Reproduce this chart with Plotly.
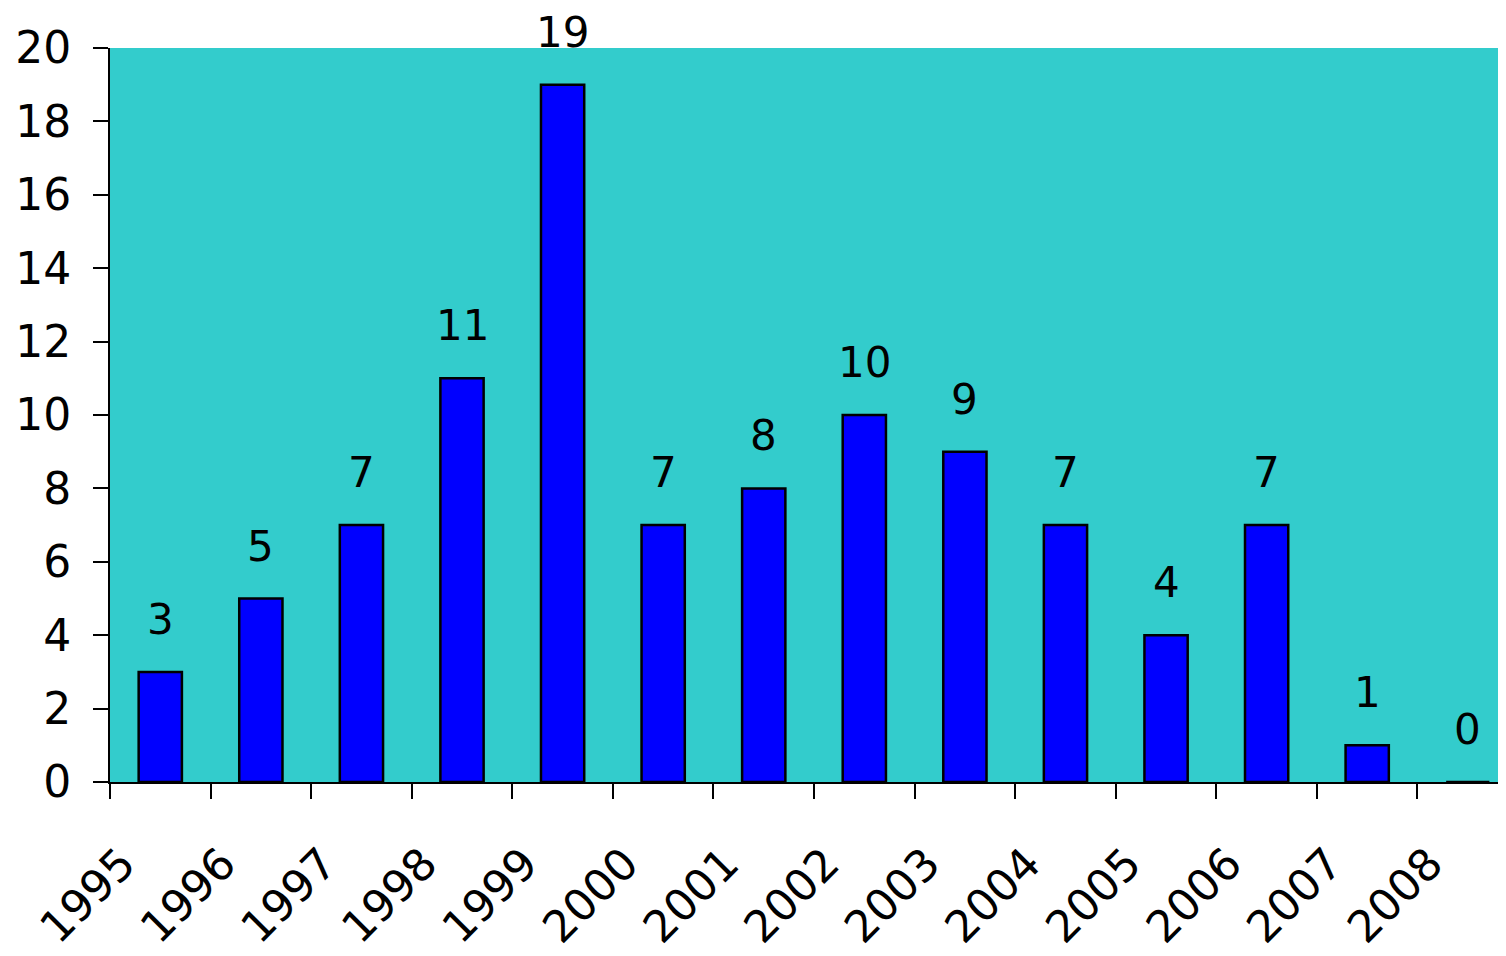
import plotly.graph_objects as go

years = ["1995", "1996", "1997", "1998", "1999", "2000", "2001",
         "2002", "2003", "2004", "2005", "2006", "2007", "2008"]
counts = [3, 5, 7, 11, 19, 7, 8, 10, 9, 7, 4, 7, 1, 0]

FONT = "DejaVu Sans"

fig = go.Figure(go.Bar(
    x=years, y=counts,
    width=0.43,
    marker=dict(color="#0000FF", line=dict(color="black", width=2.5)),
    cliponaxis=False,
))

for i, c in enumerate(counts):
    fig.add_annotation(
        x=i, y=c, xref="x", yref="y", text=str(c), showarrow=False,
        xanchor="center", yanchor="bottom", yshift=27, borderpad=0,
        font=dict(family=FONT, size=42, color="black"),
    )

fig.update_layout(
    width=1498, height=948,
    margin=dict(l=102, r=0, t=40, b=174, autoexpand=False),
    paper_bgcolor="white",
    plot_bgcolor="#33CCCC",
    showlegend=False,
    font=dict(family=FONT, size=42, color="black"),
)
fig.update_xaxes(
    type="category",
    range=[-0.5, 13.38],
    tickson="boundaries",
    ticks="outside", ticklen=15, tickwidth=2, tickcolor="black",
    showline=True, linecolor="black", linewidth=2,
    tickangle=-45,
    tickfont=dict(family=FONT, size=44, color="black"),
    ticklabelshift=-38,
    ticklabelstandoff=36,
    showgrid=False, automargin=False,
)
fig.update_yaxes(
    range=[0, 20], dtick=2,
    ticks="outside", ticklen=15, tickwidth=2, tickcolor="black",
    showline=True, linecolor="black", linewidth=2,
    showgrid=False, zeroline=False,
    tickfont=dict(family=FONT, size=44, color="black"),
    ticklabelstandoff=13,
    automargin=False,
)

fig.write_html("out.html")
